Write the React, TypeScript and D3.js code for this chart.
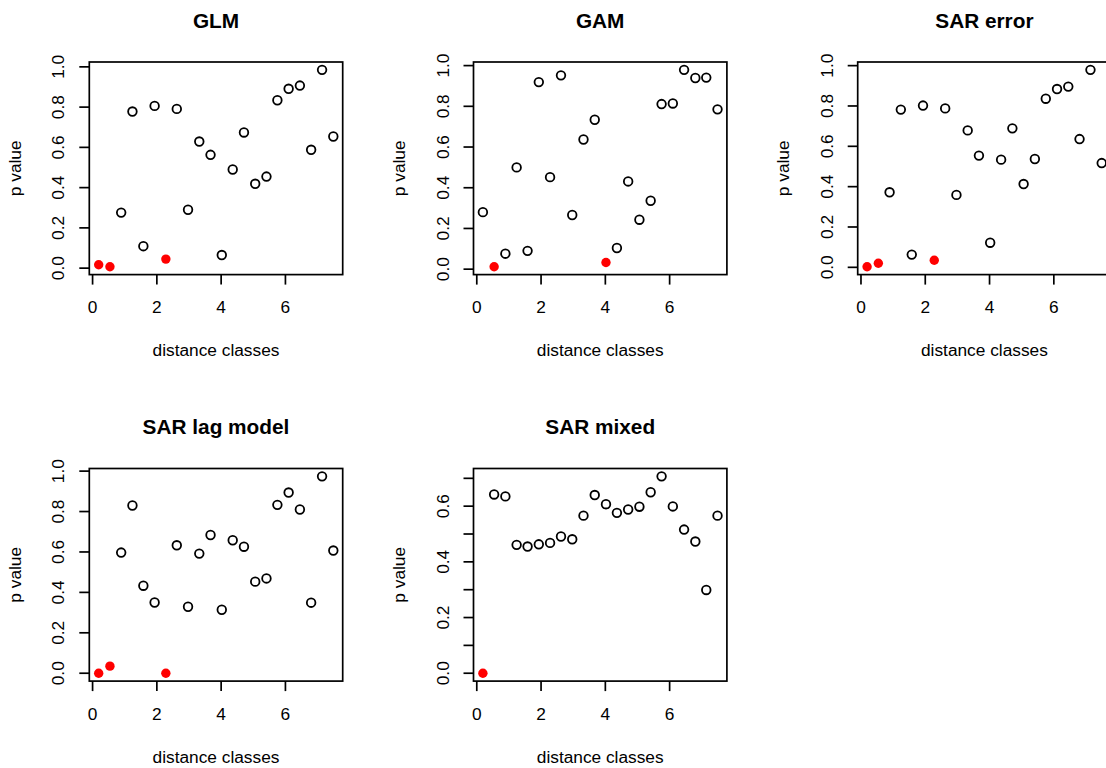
import React from "react";
import * as d3 from "d3";

const distanceClasses = [0.19, 0.54, 0.89, 1.24, 1.58, 1.93, 2.28, 2.62, 2.97, 3.32, 3.67, 4.02, 4.36, 4.71, 5.06, 5.41, 5.75, 6.10, 6.45, 6.80, 7.14, 7.49];

const pGLM = [0.017, 0.007, 0.276, 0.778, 0.109, 0.806, 0.045, 0.791, 0.290, 0.629, 0.563, 0.065, 0.490, 0.674, 0.419, 0.455, 0.834, 0.891, 0.907, 0.588, 0.985, 0.654];
const pGAM = [0.280, 0.012, 0.076, 0.500, 0.090, 0.919, 0.452, 0.952, 0.266, 0.637, 0.734, 0.033, 0.104, 0.431, 0.243, 0.336, 0.811, 0.814, 0.979, 0.939, 0.941, 0.785];
const pSARerror = [0.003, 0.020, 0.372, 0.782, 0.063, 0.802, 0.035, 0.788, 0.359, 0.679, 0.554, 0.122, 0.534, 0.689, 0.413, 0.537, 0.836, 0.884, 0.896, 0.636, 0.979, 0.517];
const pSARlag = [0.000, 0.035, 0.597, 0.830, 0.433, 0.350, 0.000, 0.633, 0.329, 0.592, 0.684, 0.314, 0.658, 0.626, 0.453, 0.469, 0.833, 0.894, 0.810, 0.349, 0.974, 0.607];
const pSARmixed = [0.000, 0.642, 0.635, 0.461, 0.455, 0.463, 0.468, 0.491, 0.481, 0.566, 0.640, 0.607, 0.576, 0.588, 0.598, 0.650, 0.707, 0.599, 0.516, 0.473, 0.299, 0.566];

const panelTitles = ["GLM", "GAM", "SAR error", "SAR lag model", "SAR mixed"];
const panelValues = [pGLM, pGAM, pSARerror, pSARlag, pSARmixed];

const xTicks = [0, 2, 4, 6];
const xTickLabels = ["0", "2", "4", "6"];
const yTicksUnit = [0, 0.2, 0.4, 0.6, 0.8, 1.0];
const yTickLabelsUnit = ["0.0", "0.2", "0.4", "0.6", "0.8", "1.0"];
const yTicksMixed = [0, 0.1, 0.2, 0.3, 0.4, 0.5, 0.6, 0.7];
const yTickLabelsMixed = ["0.0", "", "0.2", "", "0.4", "", "0.6", ""];
const panelYTicks = [yTicksUnit, yTicksUnit, yTicksUnit, yTicksUnit, yTicksMixed];
const panelYTickLabels = [yTickLabelsUnit, yTickLabelsUnit, yTickLabelsUnit, yTickLabelsUnit, yTickLabelsMixed];

const alpha = 0.05;
const xLabel = "distance classes";
const yLabel = "p value";

const W = 1106;
const H = 768;
const COL_W = 384.2;
const ROW_H = 406.5;
const BOX_L = 89.3;
const BOX_T = 62;
const BOX_W = 253.4;
const BOX_H = 212.6;
const FONT = "'Liberation Sans', Arimo, Arial, Helvetica, sans-serif";
const AX_FS = 17.3;
const TITLE_FS = 20.8;

function rPad(ext: [number, number]): [number, number] {
  const r = ext[1] - ext[0];
  return [ext[0] - 0.04 * r, ext[1] + 0.04 * r];
}

function Panel({ idx }: { idx: number }) {
  const col = idx % 3;
  const row = Math.floor(idx / 3);
  const ox = col * COL_W;
  const oy = row * ROW_H;
  const left = ox + BOX_L;
  const top = oy + BOX_T;
  const right = left + BOX_W;
  const bottom = top + BOX_H;
  const vals = panelValues[idx];
  const x = d3.scaleLinear().domain(rPad(d3.extent(distanceClasses) as [number, number])).range([left, right]);
  const y = d3.scaleLinear().domain(rPad(d3.extent(vals) as [number, number])).range([bottom, top]);
  const yTicks = panelYTicks[idx];
  const yLabels = panelYTickLabels[idx];
  const cx = (left + right) / 2;
  const cy = (top + bottom) / 2;
  const tick = 10;
  return (
    <g>
      <text x={cx} y={oy + 27.5} textAnchor="middle" fontFamily={FONT} fontWeight="bold" fontSize={TITLE_FS} fill="#000">
        {panelTitles[idx]}
      </text>
      {distanceClasses.map((d, i) => {
        const sig = vals[i] < alpha;
        return sig ? (
          <circle key={i} cx={x(d)} cy={y(vals[i])} r={4.7} fill="#FF0000" stroke="none" />
        ) : (
          <circle key={i} cx={x(d)} cy={y(vals[i])} r={4.3} fill="none" stroke="#000" strokeWidth={1.8} />
        );
      })}
      <rect x={left} y={top} width={BOX_W} height={BOX_H} fill="none" stroke="#000" strokeWidth={1.7} />
      {xTicks.map((t, i) => (
        <g key={"xt" + i}>
          <line x1={x(t)} x2={x(t)} y1={bottom} y2={bottom + tick} stroke="#000" strokeWidth={1.7} />
          <text x={x(t)} y={bottom + 38.5} textAnchor="middle" fontFamily={FONT} fontSize={AX_FS} fill="#000">
            {xTickLabels[i]}
          </text>
        </g>
      ))}
      {yTicks.map((t, i) => (
        <g key={"yt" + i}>
          <line x1={left - tick} x2={left} y1={y(t)} y2={y(t)} stroke="#000" strokeWidth={1.7} />
          {yLabels[i] ? (
            <text
              transform={`translate(${left - 25},${y(t)}) rotate(-90)`}
              textAnchor="middle"
              fontFamily={FONT}
              fontSize={AX_FS}
              fill="#000"
            >
              {yLabels[i]}
            </text>
          ) : null}
        </g>
      ))}
      <text x={cx} y={bottom + 81.5} textAnchor="middle" fontFamily={FONT} fontSize={AX_FS} fill="#000">
        {xLabel}
      </text>
      <text
        transform={`translate(${left - 68.8},${cy}) rotate(-90)`}
        textAnchor="middle"
        fontFamily={FONT}
        fontSize={AX_FS}
        fill="#000"
      >
        {yLabel}
      </text>
    </g>
  );
}

export default function App() {
  return (
    <svg
      width={W}
      height={H}
      viewBox={`0 0 ${W} ${H}`}
      style={{ position: "absolute", left: 0, top: 0, display: "block", background: "#fff" }}
    >
      <rect x={0} y={0} width={W} height={H} fill="#fff" />
      {panelTitles.map((_, i) => (
        <Panel key={i} idx={i} />
      ))}
    </svg>
  );
}
